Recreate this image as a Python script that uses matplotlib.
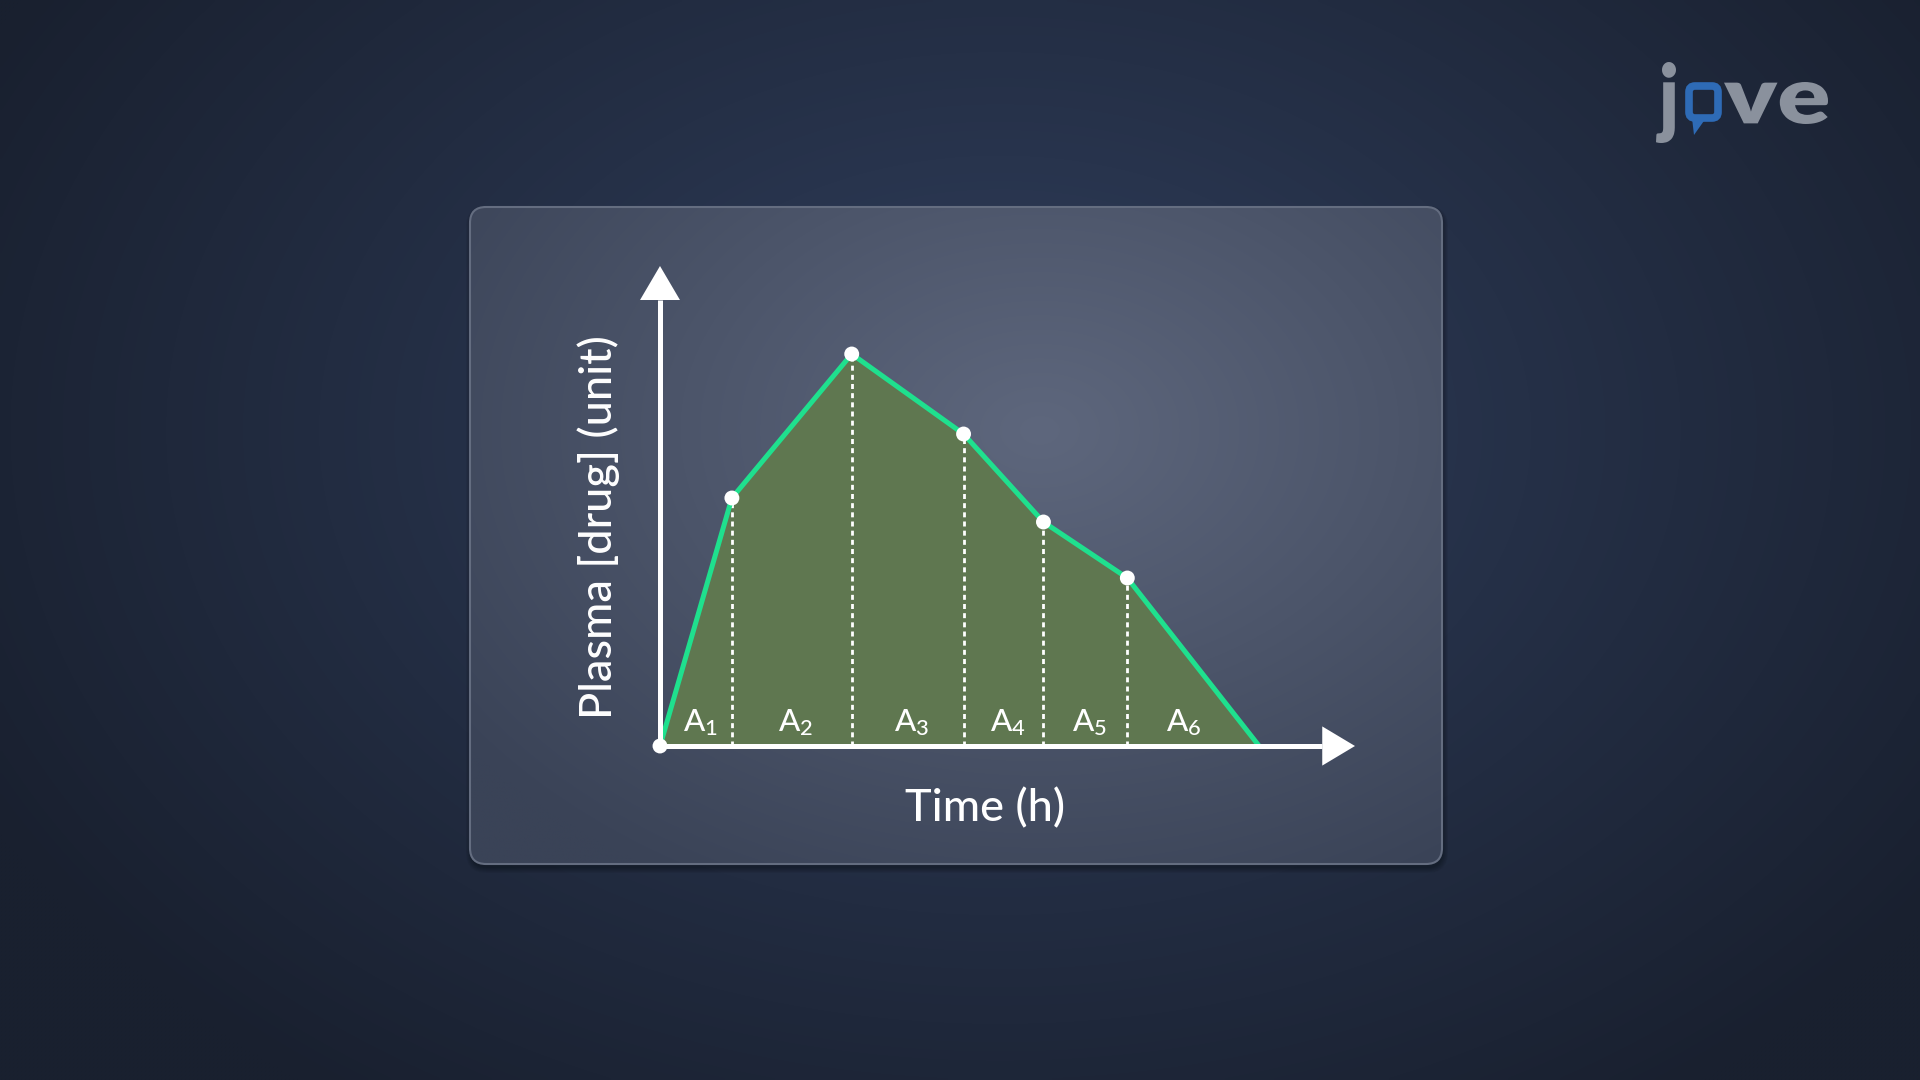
import numpy as np
import matplotlib.pyplot as plt
from matplotlib.patches import FancyBboxPatch, Polygon, PathPatch
from matplotlib.textpath import TextPath
from matplotlib.font_manager import FontProperties
from matplotlib.transforms import Affine2D
from matplotlib.colors import to_rgb

plt.rcParams['font.family'] = ['Lato', 'DejaVu Sans']
plt.rcParams['mathtext.fontset'] = 'custom'
plt.rcParams['mathtext.rm'] = 'Lato'

# Datos de la curva (tiempo en h, concentración en unidades arbitrarias)
time_h = [0, 0.9, 2.4, 3.8, 4.8, 5.85, 7.5]
conc = [0, 6.2, 9.8, 7.8, 5.6, 4.2, 0]
area_labels = ['1', '2', '3', '4', '5', '6']

x_label = 'Time (h)'
y_label = 'Plasma [drug] (unit)'

x_max = 8.7
y_max = 12.0

# Colores
line_clr = '#1fe08e'
fill_clr = '#5f7750'
white = '#ffffff'
logo_clr = '#8a919d'
logo_blue = '#2e6bb6'

W, H = 1920, 1080
fig = plt.figure(figsize=(19.2, 10.8), dpi=100)

# Fondo (coordenadas en pixeles)
bg = fig.add_axes([0, 0, 1, 1])
bg.set_xlim(0, W)
bg.set_ylim(H, 0)
bg.axis('off')


def radial(c0, c1, cx, cy, rx, ry, x0, x1, y0, y1, nx=480, ny=270, p=1.0):
    xs = np.linspace(x0, x1, nx)
    ys = np.linspace(y0, y1, ny)
    X, Y = np.meshgrid(xs, ys)
    d = np.clip(np.hypot((X - cx) / rx, (Y - cy) / ry), 0, 1) ** p
    c0 = np.array(to_rgb(c0))
    c1 = np.array(to_rgb(c1))
    return (1 - d)[..., None] * c0 + d[..., None] * c1


img = radial('#31405f', '#19202f', 1000, 430, 1150, 820, 0, W, 0, H, p=0.9)
bg.imshow(img, extent=(0, W, H, 0), interpolation='bilinear', aspect='auto', zorder=0)

# Panel
px0, py0, pw, ph = 470, 207, 972, 657
for k in range(6):
    sh = FancyBboxPatch((px0 - k + 1, py0 - k + 4), pw + 2 * k, ph + 2 * k,
                        boxstyle='round,pad=0,rounding_size=%d' % (16 + k),
                        facecolor='black', edgecolor='none', alpha=0.05, zorder=1)
    bg.add_patch(sh)

panel = FancyBboxPatch((px0, py0), pw, ph, boxstyle='round,pad=0,rounding_size=16',
                       facecolor='none', edgecolor='#646d80', linewidth=1.5, zorder=3)
bg.add_patch(panel)
pimg = radial('#5e677d', '#3a4357', 1040, 430, 720, 520, px0, px0 + pw, py0, py0 + ph, p=1.0)
im = bg.imshow(pimg, extent=(px0, px0 + pw, py0 + ph, py0), interpolation='bilinear',
               aspect='auto', zorder=2)
im.set_clip_path(panel)
bg.set_xlim(0, W)
bg.set_ylim(H, 0)

# Textos de los ejes
bg.text(985, 809, x_label, color=white, fontsize=32.5, fontweight='medium',
        ha='center', va='center', zorder=5)
bg.text(599, 527, y_label, color=white, fontsize=32.5, fontweight='medium',
        ha='center', va='center', rotation=90, zorder=5)


# Logo: texto ajustado a una caja en pixeles
def fit_text(s, x0, x1, y_top, y_bot, color):
    tp = TextPath((0, 0), s, size=100, prop=FontProperties(family='Lato', weight='heavy'))
    ext = tp.get_extents()
    sx = (x1 - x0) / ext.width
    sy = (y_bot - y_top) / ext.height
    tr = Affine2D().translate(-ext.x0, -ext.y1).scale(sx, -sy).translate(x0, y_top)
    bg.add_patch(PathPatch(tr.transform_path(tp), facecolor=color, edgecolor='none', zorder=5))


fit_text('j', 1656, 1676, 62, 143, logo_clr)
fit_text('ve', 1724, 1828, 82, 124, logo_clr)
bubble = FancyBboxPatch((1689, 86), 29, 32, boxstyle='round,pad=0,rounding_size=6',
                        facecolor='none', edgecolor=logo_blue, linewidth=5.5, zorder=5)
bg.add_patch(bubble)
bg.add_patch(Polygon([[1692, 118], [1706, 118], [1694, 135]], closed=True,
                     facecolor=logo_blue, edgecolor='none', zorder=5))

# Gráfica
ax = fig.add_axes([660 / W, (H - 746) / H, 695 / W, 480 / H])
ax.set_xlim(0, x_max)
ax.set_ylim(0, y_max)
ax.axis('off')
ax.patch.set_visible(False)

ax.fill_between(time_h, conc, 0, color=fill_clr, linewidth=0, zorder=2)

for t, c in zip(time_h[1:-1], conc[1:-1]):
    ax.plot([t, t], [0, c], color=white, linewidth=2.0, dashes=(1.8, 1.5), zorder=3)

ax.plot(time_h, conc, color=line_clr, linewidth=3.6, solid_joinstyle='round',
        solid_capstyle='butt', zorder=4, clip_on=False)

# Ejes con flechas
xa = 0.41
ya = 0.85
ax.plot([0, x_max - xa], [0, 0], color=white, linewidth=3.6, solid_capstyle='butt',
        zorder=5, clip_on=False)
ax.plot([0, 0], [0, y_max - ya], color=white, linewidth=3.6, solid_capstyle='butt',
        zorder=5, clip_on=False)
ax.add_patch(Polygon([[x_max - xa, -0.49], [x_max, 0], [x_max - xa, 0.49]], closed=True,
                     facecolor=white, edgecolor='none', zorder=5, clip_on=False))
ax.add_patch(Polygon([[-0.25, y_max - ya], [0, y_max], [0.25, y_max - ya]], closed=True,
                     facecolor=white, edgecolor='none', zorder=5, clip_on=False))

ax.scatter(time_h[:-1], conc[:-1], s=115, color=white, edgecolors='none',
           zorder=6, clip_on=False)

# Etiquetas de áreas
for i, lab in enumerate(area_labels):
    t0, t1 = time_h[i], time_h[i + 1]
    frac = 0.4 if i == len(area_labels) - 1 else 0.5
    xm = t0 + frac * (t1 - t0) + 0.05
    ax.text(xm, 0.36, r'$\mathregular{A_{%s}}$' % lab, color=white, fontsize=22.5,
            fontweight='medium', ha='center', va='baseline', zorder=6)

plt.savefig('out.png', dpi=100)
